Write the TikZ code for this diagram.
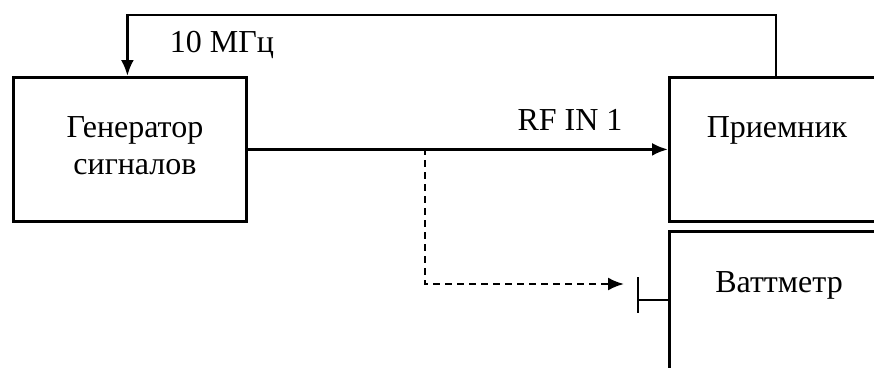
\documentclass[tikz,border=0pt]{standalone}
\usepackage{fontspec}
\setmainfont{Liberation Serif}
\usetikzlibrary{arrows.meta,calc}
\begin{document}
\begin{tikzpicture}[x=1pt,y=-1pt,
  box/.style={draw,line width=2.8pt,rectangle,inner sep=0pt,anchor=north west},
  lbl/.style={font=\fontsize{32pt}{37pt}\selectfont,inner sep=0pt,align=center},
  conn/.style={line width=2.8pt},
  arr/.style={conn,-{Latex[length=16pt,width=13pt]}},
  darr/.style={line width=2.3pt,dash pattern=on 7pt off 5pt,-{Latex[length=16pt,width=13pt]}}]
\useasboundingbox (0,0) rectangle (874,367);
% boxes
\node[box,minimum width=233pt,minimum height=144pt] (gen) at (12,76) {};
\node[box,minimum width=222pt,minimum height=144pt] (rec) at (668,76) {};
\node[box,minimum width=222pt,minimum height=170pt] (watt) at (668,230) {};
% texts
\node[lbl] (gentext) at (135,146) {Генератор\\сигналов};
\node[lbl] (rectext) at (777,130) {Приемник};
\node[lbl] (watttext) at (779,285) {Ваттметр};
\node[lbl] (lab10) at (222,45) {10 МГц};
\node[lbl] (labrf) at (570,120) {RF IN 1};
% feedback
\draw[arr] ([xshift=108pt]rec.north west) -- ++(0,-61) -| ([xshift=-2.5pt]gen.north);
% RF line
\draw[arr] (gen.east) -- (rec.west);
% dashed branch
\coordinate (split) at (425,148);
\coordinate (dtip) at (624,284);
\draw[darr] (split) |- (dtip);
% connector to wattmeter
\coordinate (bartop) at (638,277);
\coordinate (barbot) at (638,313);
\coordinate (barmid) at (638,300);
\draw[conn] (bartop) -- (barbot);
\draw[conn] (barmid) -- (barmid -| watt.west);
\end{tikzpicture}
\end{document}
